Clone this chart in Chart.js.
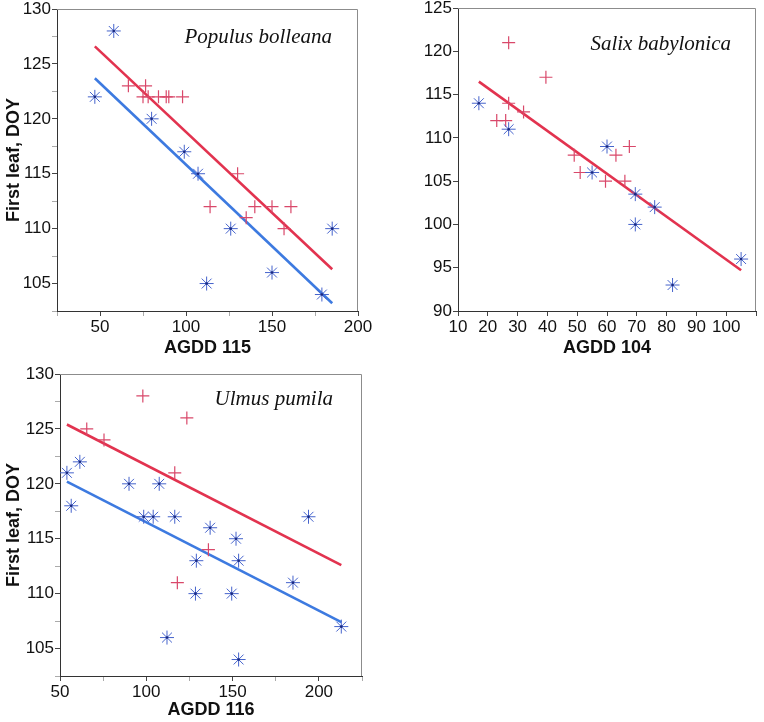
<!DOCTYPE html>
<html><head><meta charset="utf-8">
<script src="https://cdn.jsdelivr.net/npm/chart.js@4/dist/chart.umd.min.js"></script>
<style>
html,body{margin:0;padding:0;background:#fff;}
body{width:764px;height:722px;position:relative;overflow:hidden;}
canvas{position:absolute;display:block;}
</style></head><body>
<canvas id="c1" width="380" height="365" style="left:0;top:0"></canvas>
<canvas id="c2" width="384" height="365" style="left:380px;top:0"></canvas>
<canvas id="c3" width="380" height="382" style="left:0;top:340px"></canvas>
<script>
// ---------- Panel 1: Populus bolleana ----------
const p1AsteriskX = [47, 58, 80, 99, 107, 112, 126, 150, 179, 185];
const p1AsteriskY = [122, 128, 120, 117, 115, 105, 110, 106, 104, 110];
const p1PlusX = [66.5, 76.5, 75, 78, 84, 88.5, 90, 98, 130, 114, 135, 140, 150, 161, 157];
const p1PlusY = [123, 123, 122, 122, 122, 122, 122, 122, 115, 112, 111, 112, 112, 112, 110];
const p1RedLineX = [47, 185];
const p1RedLineY = [126.6, 106.3];
const p1BlueLineX = [47, 185];
const p1BlueLineY = [123.7, 103.2];

// ---------- Panel 2: Salix babylonica ----------
const p2AsteriskX = [17, 27, 55, 60, 69.5, 69.5, 76, 82, 105];
const p2AsteriskY = [114, 111, 106, 109, 103.5, 100, 102, 93, 96];
const p2PlusX = [27, 39.5, 27, 32, 23, 26, 49, 51, 59.5, 63, 67.5, 66];
const p2PlusY = [121, 117, 114, 113, 112, 112, 108, 106, 105, 108, 109, 105];
const p2RedLineX = [17, 105];
const p2RedLineY = [116.5, 94.7];

// ---------- Panel 3: Ulmus pumila ----------
const p3AsteriskX = [54, 56.5, 61.5, 90, 98.5, 104, 107.5, 116.5, 112, 129, 128.5, 137, 152, 153.5, 149.5, 153.5, 185, 194, 213];
const p3AsteriskY = [121, 118, 122, 120, 117, 117, 120, 117, 106, 113, 110, 116, 115, 113, 110, 104, 111, 117, 107];
const p3PlusX = [98, 123.5, 65.5, 75.5, 116.5, 136, 118];
const p3PlusY = [128, 126, 125, 124, 121, 114, 111];
const p3RedLineX = [54, 213];
const p3RedLineY = [125.4, 112.6];
const p3BlueLineX = [54, 213];
const p3BlueLineY = [120.2, 107.4];

// axis labels / titles
const yTitle = 'First leaf, DOY';
const species = ['Populus bolleana', 'Salix babylonica', 'Ulmus pumila'];
const xTitles = ['AGDD 115', 'AGDD 104', 'AGDD 116'];

const pts = (xs, ys) => xs.map((x, i) => ({x: x, y: ys[i]}));

const BLUE_MARK = '#4563cc';
const RED_MARK = '#d9486a';
const RED_LINE = '#e2334f';
const BLUE_LINE = '#3d7ae0';

const framePlugin = {
  id: 'frame',
  beforeDatasetsDraw(chart, args, opts) {
    const {ctx, chartArea: a} = chart;
    ctx.save();
    ctx.strokeStyle = '#8c8c8c';
    ctx.lineWidth = 1;
    ctx.beginPath();
    ctx.moveTo(a.left, Math.round(a.top) + 0.5);
    ctx.lineTo(Math.round(a.right) - 0.5, Math.round(a.top) + 0.5);
    ctx.lineTo(Math.round(a.right) - 0.5, a.bottom);
    ctx.stroke();
    ctx.restore();
  },
  afterDraw(chart, args, opts) {
    if (!opts || !opts.label) return;
    const {ctx, chartArea: a} = chart;
    ctx.save();
    ctx.font = 'italic 21px "Liberation Serif", "Times New Roman", serif';
    ctx.fillStyle = '#111';
    ctx.textAlign = 'right';
    ctx.textBaseline = 'middle';
    ctx.fillText(opts.label, a.right - opts.dx, a.top + opts.dy);
    ctx.restore();
  }
};

function isMajor(v, every) {
  const r = v / every;
  return Math.abs(r - Math.round(r)) < 1e-6;
}
function tickCb(every, hide) {
  return function(v) {
    if (hide && hide.indexOf(v) >= 0) return '';
    return isMajor(v, every) ? String(v) : '';
  };
}
function tickColorFn(every) {
  return function(c) {
    const t = c.tick;
    if (!t) return '#555';
    return isMajor(t.value, every) ? '#444' : '#aaa';
  };
}

function makeChart(id, cfg) {
  const datasets = [];
  datasets.push({
    data: pts(cfg.ax, cfg.ay), pointStyle: 'circle', pointRadius: 1.3,
    pointBackgroundColor: '#1b2a80', pointBorderWidth: 0, showLine: false
  });
  datasets.push({
    data: pts(cfg.ax, cfg.ay), pointStyle: 'star', pointRadius: 7,
    pointBorderColor: BLUE_MARK, pointBackgroundColor: BLUE_MARK, pointBorderWidth: 1, showLine: false
  });
  datasets.push({
    data: pts(cfg.px, cfg.py), pointStyle: 'cross', pointRadius: 6.5,
    pointBorderColor: RED_MARK, pointBackgroundColor: RED_MARK, pointBorderWidth: 1.2, showLine: false
  });
  if (cfg.blx) datasets.push({
    data: pts(cfg.blx, cfg.bly), showLine: true, borderColor: BLUE_LINE, borderWidth: 2.6,
    pointRadius: 0, fill: false
  });
  datasets.push({
    data: pts(cfg.rlx, cfg.rly), showLine: true, borderColor: RED_LINE, borderWidth: 2.6,
    pointRadius: 0, fill: false
  });

  const tickFont = {family: '"Liberation Sans", Arial, sans-serif', size: 17};
  const titleFont = {family: '"Liberation Sans", Arial, sans-serif', size: 18, weight: 'bold'};

  return new Chart(document.getElementById(id), {
    type: 'scatter',
    data: {datasets: datasets},
    options: {
      responsive: false,
      animation: false,
      events: [],
      layout: {padding: cfg.pad},
      plugins: {
        legend: {display: false}, tooltip: {enabled: false},
        frame: {label: cfg.label, dx: cfg.ldx, dy: cfg.ldy}
      },
      scales: {
        x: {
          type: 'linear', min: cfg.xmin, max: cfg.xmax,
          afterFit: s => { s.height = cfg.xh; s.paddingLeft = 0; s.paddingRight = 0; },
          ticks: {stepSize: cfg.xstep, autoSkip: false, maxRotation: 0, padding: 1,
                  color: '#111', font: tickFont, callback: tickCb(cfg.xlab, cfg.xhide)},
          grid: {drawOnChartArea: false, drawTicks: true, tickLength: 5, color: '#555',
                 tickColor: tickColorFn(cfg.xlab)},
          border: {color: '#333', width: 1},
          title: {display: true, text: cfg.xtitle, color: '#111', font: titleFont, padding: 0}
        },
        y: {
          type: 'linear', min: cfg.ymin, max: cfg.ymax,
          afterFit: s => { s.width = cfg.yw; s.paddingTop = 0; s.paddingBottom = 0; },
          ticks: {stepSize: cfg.ystep, autoSkip: false, padding: 1,
                  color: '#111', font: tickFont, callback: tickCb(cfg.ylab, cfg.yhide)},
          grid: {drawOnChartArea: false, drawTicks: true, tickLength: 5, color: '#555',
                 tickColor: tickColorFn(cfg.ylab)},
          border: {color: '#333', width: 1},
          title: {display: !!cfg.ytitle, text: cfg.ytitle || '', color: '#111', font: titleFont, padding: 0}
        }
      }
    },
    plugins: [framePlugin]
  });
}

makeChart('c1', {
  ax: p1AsteriskX, ay: p1AsteriskY, px: p1PlusX, py: p1PlusY,
  rlx: p1RedLineX, rly: p1RedLineY, blx: p1BlueLineX, bly: p1BlueLineY,
  xmin: 25, xmax: 200, xstep: 25, xlab: 50, xhide: [25],
  ymin: 102.5, ymax: 130, ystep: 2.5, ylab: 5,
  xtitle: xTitles[0], ytitle: yTitle, label: species[0], ldx: 26, ldy: 28,
  pad: {left: 3, top: 9, right: 22, bottom: 6}, xh: 48, yw: 54
});
makeChart('c2', {
  ax: p2AsteriskX, ay: p2AsteriskY, px: p2PlusX, py: p2PlusY,
  rlx: p2RedLineX, rly: p2RedLineY,
  xmin: 10, xmax: 110, xstep: 10, xlab: 10, xhide: [110],
  ymin: 90, ymax: 125, ystep: 5, ylab: 5,
  xtitle: xTitles[1], ytitle: null, label: species[1], ldx: 25, ldy: 36,
  pad: {left: 0, top: 7, right: 4, bottom: 6}, xh: 48, yw: 78
});
makeChart('c3', {
  ax: p3AsteriskX, ay: p3AsteriskY, px: p3PlusX, py: p3PlusY,
  rlx: p3RedLineX, rly: p3RedLineY, blx: p3BlueLineX, bly: p3BlueLineY,
  xmin: 50, xmax: 225, xstep: 25, xlab: 50, xhide: [225],
  ymin: 102.5, ymax: 130, ystep: 2.5, ylab: 5,
  xtitle: xTitles[2], ytitle: yTitle, label: species[2], ldx: 29, ldy: 25,
  pad: {left: 3, top: 34, right: 18, bottom: 1}, xh: 45, yw: 57
});
</script>
</body></html>
